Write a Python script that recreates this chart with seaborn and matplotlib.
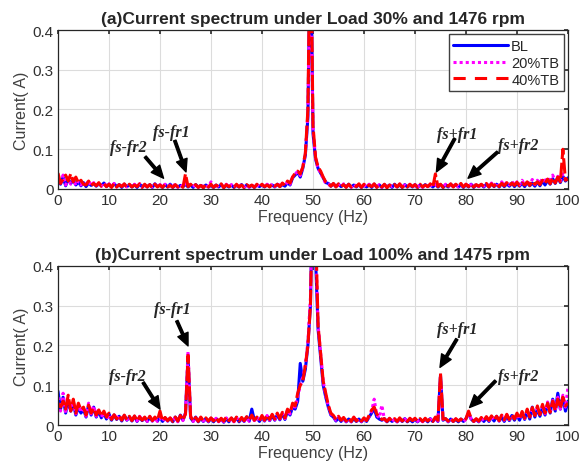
"""
Current spectrum under two load conditions — BL / 20%TB / 40%TB
"""

import numpy as np
import pandas as pd
import matplotlib
matplotlib.use("Agg")
import matplotlib.pyplot as plt
from matplotlib.ticker import FuncFormatter
import seaborn as sns

# ── Data (spectrum amplitudes in mA, one value per 0.5 Hz bin, 0..100 Hz) ─────
FREQ_STEP = 0.5
SERIES = ["BL", "20%TB", "40%TB"]

# (a) Load 30 %, 1476 rpm
a_bl = [
    28, 12, 30, 8, 25, 14, 22, 10, 18, 8, 16, 6, 15, 9, 14, 7, 13, 8, 15, 6,
    12, 5, 13, 7, 11, 4, 12, 6, 10, 5, 11, 4, 12, 6, 10, 5, 11, 4, 13, 6,
    10, 4, 11, 5, 12, 4, 10, 5, 9, 6, 12, 5, 10, 4, 11, 5, 9, 4, 10, 5,
    9, 4, 10, 5, 11, 4, 9, 5, 10, 4, 9, 5, 11, 4, 10, 5, 9, 4, 10, 6,
    10, 5, 11, 6, 10, 5, 12, 6, 11, 7, 16, 10, 28, 35, 42, 30, 52, 85, 180, 650,
    140, 75, 52, 40, 28, 16, 14, 7, 13, 6, 12, 6, 11, 5, 12, 5, 10, 5, 11, 4,
    10, 5, 11, 4, 12, 5, 10, 4, 11, 5, 10, 4, 12, 5, 10, 4, 11, 5, 10, 5,
    11, 4, 10, 5, 11, 6, 10, 5, 12, 5, 11, 4, 10, 5, 12, 6, 11, 5, 10, 4,
    11, 5, 12, 4, 10, 6, 11, 5, 12, 5, 13, 6, 12, 5, 14, 6, 13, 7, 15, 6,
    14, 7, 15, 6, 16, 8, 15, 7, 18, 8, 20, 10, 22, 12, 26, 14, 30, 16, 32, 20,
    28,
]
a_tb20 = [
    30, 15, 35, 10, 28, 12, 25, 9, 20, 10, 18, 7, 22, 8, 16, 9, 14, 7, 16, 8,
    13, 6, 14, 5, 12, 7, 13, 5, 11, 6, 12, 5, 13, 4, 11, 6, 12, 5, 12, 5,
    11, 6, 12, 5, 10, 6, 13, 4, 11, 5, 14, 6, 11, 5, 12, 4, 10, 6, 11, 5,
    18, 5, 11, 4, 10, 6, 12, 5, 11, 4, 10, 6, 12, 5, 11, 4, 10, 5, 11, 6,
    11, 5, 12, 6, 13, 6, 15, 7, 14, 8, 18, 12, 30, 38, 44, 34, 55, 88, 190, 600,
    150, 78, 50, 42, 26, 14, 13, 6, 12, 7, 11, 5, 13, 6, 11, 4, 12, 6, 10, 5,
    11, 4, 12, 6, 10, 5, 11, 4, 12, 5, 11, 6, 10, 4, 12, 5, 10, 6, 11, 5,
    10, 5, 12, 4, 11, 6, 12, 5, 11, 6, 10, 5, 12, 5, 11, 6, 14, 5, 11, 5,
    12, 6, 11, 5, 13, 6, 12, 7, 14, 6, 15, 7, 16, 8, 18, 9, 17, 10, 20, 9,
    18, 10, 22, 9, 20, 12, 24, 11, 22, 14, 28, 15, 30, 16, 35, 18, 32, 20, 38, 25,
    30,
]
a_tb40 = [
    40, 14, 25, 35, 20, 38, 18, 30, 15, 22, 12, 10, 20, 9, 14, 8, 16, 7, 13, 6,
    12, 4, 14, 5, 11, 6, 13, 4, 12, 5, 10, 6, 13, 4, 12, 5, 11, 3, 12, 5,
    10, 4, 12, 5, 9, 4, 11, 5, 10, 4, 38, 6, 12, 5, 11, 4, 9, 3, 12, 5,
    12, 4, 10, 5, 13, 3, 11, 6, 9, 4, 12, 5, 10, 3, 11, 6, 10, 4, 12, 5,
    12, 6, 10, 5, 13, 7, 12, 6, 15, 9, 20, 15, 30, 40, 45, 38, 55, 90, 200, 700,
    160, 80, 55, 45, 30, 18, 15, 7, 14, 5, 13, 6, 11, 4, 12, 5, 10, 6, 13, 4,
    12, 5, 10, 6, 13, 4, 11, 5, 12, 3, 10, 6, 11, 5, 13, 4, 10, 5, 12, 6,
    11, 4, 12, 5, 10, 6, 13, 5, 38, 6, 12, 4, 11, 7, 13, 5, 12, 6, 14, 5,
    12, 6, 13, 5, 11, 7, 12, 6, 14, 5, 13, 7, 15, 6, 14, 8, 16, 7, 15, 9,
    17, 8, 15, 10, 18, 9, 20, 12, 18, 11, 22, 14, 25, 13, 28, 15, 30, 18, 100, 22,
    25,
]

# (b) Load 100 %, 1475 rpm
b_bl = [
    85, 40, 70, 30, 60, 35, 55, 25, 45, 30, 40, 20, 50, 25, 45, 20, 35, 18, 30, 15,
    28, 12, 25, 14, 22, 10, 24, 12, 20, 10, 22, 9, 20, 11, 18, 9, 20, 10, 18, 10,
    20, 9, 18, 10, 17, 8, 20, 9, 25, 12, 30, 170, 18, 9, 20, 8, 17, 9, 16, 8,
    17, 8, 16, 9, 15, 7, 16, 8, 17, 9, 18, 8, 16, 9, 20, 10, 40, 12, 18, 9,
    20, 10, 22, 11, 24, 12, 26, 13, 28, 14, 35, 25, 45, 40, 60, 155, 110, 140, 200, 300,
    650, 420, 240, 170, 100, 70, 45, 25, 20, 10, 18, 9, 16, 8, 15, 8, 16, 9, 15, 8,
    16, 9, 20, 30, 42, 20, 15, 12, 16, 8, 15, 9, 14, 8, 15, 9, 16, 8, 14, 8,
    15, 8, 14, 9, 15, 8, 16, 9, 17, 9, 125, 12, 16, 8, 15, 9, 14, 8, 15, 9,
    16, 30, 15, 9, 14, 8, 16, 9, 18, 9, 20, 10, 22, 10, 20, 9, 22, 11, 24, 12,
    25, 12, 30, 14, 35, 15, 45, 20, 40, 22, 45, 25, 55, 30, 65, 35, 80, 40, 70, 35,
    60,
]
b_tb20 = [
    70, 35, 80, 30, 65, 40, 60, 28, 50, 32, 45, 22, 55, 28, 48, 22, 40, 20, 32, 16,
    26, 12, 28, 14, 24, 11, 22, 13, 21, 10, 20, 10, 22, 11, 19, 9, 21, 10, 18, 9,
    18, 9, 20, 10, 17, 9, 19, 8, 22, 11, 30, 185, 20, 9, 18, 8, 19, 10, 17, 9,
    16, 9, 17, 8, 16, 8, 18, 9, 16, 8, 19, 9, 17, 10, 18, 9, 22, 11, 19, 10,
    22, 11, 24, 12, 25, 13, 28, 15, 30, 16, 38, 28, 50, 45, 70, 100, 120, 150, 210, 320,
    600, 470, 250, 180, 110, 75, 48, 28, 22, 12, 20, 10, 17, 9, 16, 8, 18, 9, 16, 9,
    17, 10, 22, 35, 65, 25, 18, 50, 14, 8, 16, 9, 15, 8, 17, 9, 15, 8, 16, 10,
    16, 9, 15, 8, 16, 9, 15, 8, 18, 10, 120, 14, 15, 9, 16, 8, 15, 9, 14, 8,
    15, 28, 16, 8, 15, 9, 18, 10, 20, 11, 22, 12, 21, 10, 24, 12, 26, 13, 25, 14,
    28, 14, 32, 16, 38, 18, 42, 22, 45, 25, 50, 28, 58, 30, 62, 35, 70, 40, 75, 45,
    95,
]
b_tb40 = [
    55, 45, 60, 40, 75, 35, 65, 30, 55, 38, 45, 25, 50, 30, 42, 25, 38, 22, 35, 20,
    30, 14, 26, 15, 24, 12, 25, 13, 22, 11, 23, 10, 21, 12, 20, 10, 22, 11, 20, 12,
    35, 10, 19, 11, 18, 9, 20, 10, 24, 12, 28, 175, 22, 10, 19, 9, 20, 11, 18, 10,
    18, 10, 19, 9, 17, 10, 20, 11, 18, 9, 20, 10, 19, 11, 21, 12, 25, 12, 20, 11,
    24, 12, 25, 14, 27, 15, 30, 16, 32, 18, 40, 30, 55, 48, 80, 100, 110, 150, 200, 300,
    650, 500, 250, 180, 110, 80, 50, 30, 24, 14, 22, 12, 19, 10, 18, 9, 20, 10, 17, 10,
    18, 11, 24, 38, 45, 28, 20, 14, 16, 9, 17, 10, 16, 9, 18, 10, 16, 9, 17, 11,
    17, 10, 16, 9, 17, 10, 16, 9, 20, 12, 130, 15, 16, 10, 17, 9, 16, 10, 15, 9,
    16, 35, 17, 9, 16, 10, 19, 11, 21, 12, 23, 13, 22, 11, 25, 13, 27, 14, 26, 15,
    30, 15, 34, 17, 40, 20, 44, 24, 48, 26, 52, 30, 55, 32, 60, 36, 65, 42, 70, 48,
    55,
]

TITLES = [
    "(a)Current spectrum under Load 30% and 1476 rpm",
    "(b)Current spectrum under Load 100% and 1475 rpm",
]

# annotations: (label, text xy, arrow tail, arrow head) in data units
ANNOT_A = [
    ("fs-fr2", (13.8, 0.106), (17.1, 0.081), (20.7, 0.027)),
    ("fs-fr1", (22.2, 0.143), (22.9, 0.122), (25.1, 0.043)),
    ("fs+fr1", (78.2, 0.139), (77.8, 0.127), (74.2, 0.043)),
    ("fs+fr2", (90.2, 0.110), (86.2, 0.093), (80.4, 0.027)),
]
ANNOT_B = [
    ("fs-fr2", (13.5, 0.124), (16.7, 0.107), (20.0, 0.040)),
    ("fs-fr1", (22.5, 0.291), (23.3, 0.262), (25.5, 0.199)),
    ("fs+fr1", (78.2, 0.241), (78.2, 0.216), (74.9, 0.145)),
    ("fs+fr2", (90.2, 0.124), (85.8, 0.111), (80.7, 0.044)),
]

PALETTE = {"BL": "#0000ff", "20%TB": "#ff00ff", "40%TB": "#ff0000"}
DASHES = {"BL": "", "20%TB": (1, 1), "40%TB": (5, 1.2)}


def to_frame(bl, tb20, tb40):
    freq = np.arange(len(bl)) * FREQ_STEP
    parts = []
    for name, vals in zip(SERIES, [bl, tb20, tb40]):
        parts.append(pd.DataFrame({
            "freq": freq,
            "current": np.asarray(vals, dtype=float) / 1000.0,
            "series": name,
        }))
    return pd.concat(parts, ignore_index=True)


def style_axes(ax, title):
    ax.set_xlim(0, 100)
    ax.set_ylim(0, 0.4)
    ax.set_xticks(np.arange(0, 101, 10))
    ax.set_yticks([0, 0.1, 0.2, 0.3, 0.4])
    ax.yaxis.set_major_formatter(FuncFormatter(lambda v, _: f"{v:g}"))
    ax.set_xlabel("Frequency (Hz)", fontsize=11.5, color="#404040", labelpad=1)
    ax.set_ylabel("Current( A)", fontsize=11.5, color="#404040", labelpad=3)
    ax.set_title(title, fontsize=12.5, fontweight="bold", pad=5)
    ax.grid(True, color="#dcdcdc", linewidth=0.8)
    ax.tick_params(direction="in", top=True, right=True, length=3,
                   labelsize=11, colors="#303030", pad=3)
    for sp in ax.spines.values():
        sp.set_color("#262626")
        sp.set_linewidth(0.9)


def annotate(ax, items):
    for label, txt, tail, head in items:
        ax.text(txt[0], txt[1], label, ha="center", va="center",
                family=["Liberation Serif", "DejaVu Serif"],
                fontsize=11.5, fontweight="bold", fontstyle="italic")
        ax.annotate("", xy=head, xytext=tail,
                    arrowprops=dict(facecolor="black", edgecolor="black",
                                    width=1.8, headwidth=8, headlength=9,
                                    shrink=0))


def main():
    sns.set_theme(style="whitegrid")
    plt.rcParams["font.family"] = ["Liberation Sans", "DejaVu Sans"]

    fig = plt.figure(figsize=(5.84, 4.77), dpi=100)
    ax_a = fig.add_axes([0.0993, 0.6017, 0.8733, 0.3333])
    ax_b = fig.add_axes([0.0993, 0.1069, 0.8733, 0.3334])

    for ax, data, title, notes, legend in [
        (ax_a, (a_bl, a_tb20, a_tb40), TITLES[0], ANNOT_A, True),
        (ax_b, (b_bl, b_tb20, b_tb40), TITLES[1], ANNOT_B, False),
    ]:
        df = to_frame(*data)
        sns.lineplot(data=df, x="freq", y="current", hue="series",
                     style="series", hue_order=SERIES, style_order=SERIES,
                     palette=PALETTE, dashes=DASHES, linewidth=2.2,
                     estimator=None, sort=False, legend=legend, ax=ax)
        style_axes(ax, title)
        annotate(ax, notes)

    leg = ax_a.legend(loc="upper right", fontsize=10.5, frameon=True,
                      fancybox=False, borderpad=0.3, labelspacing=0.2,
                      handlelength=3.8, handletextpad=0.2,
                      borderaxespad=0.3)
    leg.get_frame().set_edgecolor("#404040")
    leg.get_frame().set_linewidth(1.0)
    leg.get_frame().set_alpha(1)
    # legend handles: show dash patterns at their nominal spacing
    for line, dash in zip(leg.get_lines(), [None, (1, 1), (4, 3)]):
        if dash is not None:
            line.set_dashes(dash)

    fig.savefig("out.png", dpi=100)
    plt.close(fig)


if __name__ == "__main__":
    main()
